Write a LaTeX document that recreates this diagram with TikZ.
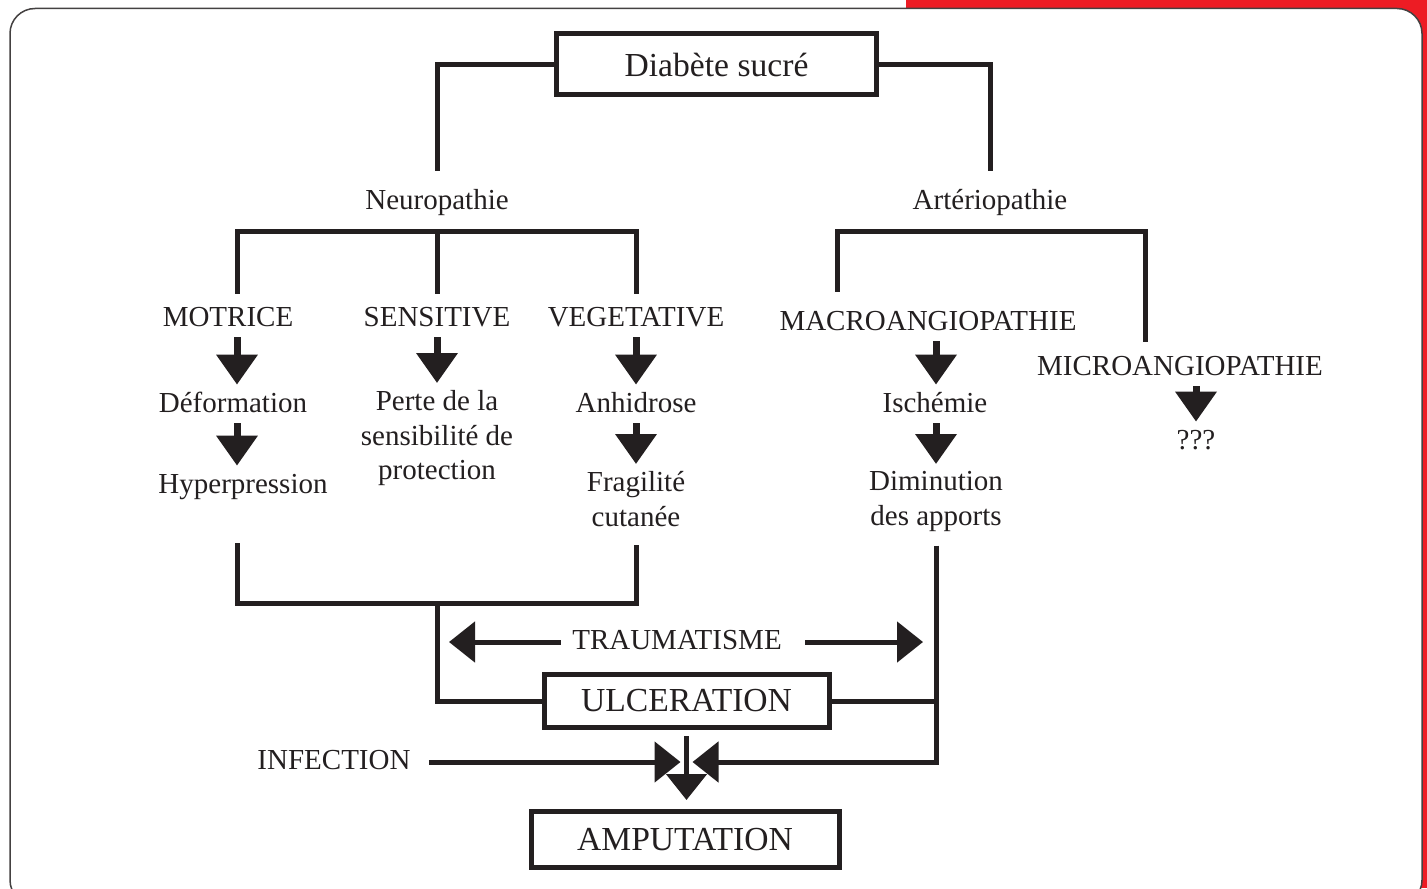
\documentclass[tikz,border=0pt]{standalone}
\usepackage{fontspec}
\setmainfont{Liberation Serif}
\usetikzlibrary{arrows.meta}
\definecolor{framered}{HTML}{ED1C24}
\definecolor{ink}{HTML}{231F20}

\begin{document}
\begin{tikzpicture}[x=0.5pt, y=-0.5pt, ink]
\tikzstyle{txt}=[inner sep=0pt, text height=10pt, text depth=3pt, font=\fontsize{14.5}{17.25}\selectfont]
\tikzstyle{multi}=[inner sep=0pt, align=center, anchor=north, font=\fontsize{14.5}{17.25}\selectfont]
\tikzstyle{bigbox}=[draw, line width=2.5pt, inner sep=0pt, font=\fontsize{16.8}{20}\selectfont]
\tikzstyle{link}=[line width=2.5pt]
\tikzstyle{fatarrow}=[line width=3.5pt, -{Triangle[width=20pt,length=15pt]}, shorten <=2.5pt, shorten >=3.5pt]
\tikzstyle{joinarrow}=[line width=2.5pt, -{Triangle[width=20pt,length=13pt]}]

% frame
\useasboundingbox (0,0) rectangle (1427,888);
\clip (0,0) rectangle (1427,888);
\fill[framered] (906,0) rectangle (1427,888);
\filldraw[fill=white, draw=ink!85, line width=0.75pt, rounded corners=12.5pt] (10,8.5) rectangle (1422,905);

% columns
\coordinate (cA) at (237,0);
\coordinate (cC) at (636,0);
\coordinate (cL) at (837,0);
\coordinate (cM) at (936,0);
\coordinate (cR) at (1145,0);
\coordinate (cQ) at (1196,0);

\node[bigbox, minimum width=160pt, minimum height=30.5pt] (diab) at (716.5,64.5) {Diabète sucré};
\node[txt] (neuro) at (437,202) {Neuropathie};
\node[txt] (arter) at (990,202) {Artériopathie};
\node[txt] (motrice) at (228,319) {MOTRICE};
\node[txt] (sensitive) at (437,319) {SENSITIVE};
\node[txt] (vegetative) at (636,319) {VEGETATIVE};
\node[txt] (macro) at (928,323) {MACROANGIOPATHIE};
\node[txt] (micro) at (1180,368) {MICROANGIOPATHIE};
\node[txt] (deform) at (233,405) {Déformation};
\node[txt] (hyper) at (243,486) {Hyperpression};
\node[multi] (perte) at (437,390) {Perte de la\\sensibilité de\\protection};
\node[txt] (anhid) at (636,405) {Anhidrose};
\node[multi] (fragil) at (636,471) {Fragilité\\cutanée};
\node[txt] (ischem) at (935,405) {Ischémie};
\node[multi] (dimin) at (936,471) {Diminution\\des apports};
\node[txt] (qqq) at (1196,442) {???};
\node[txt] (trauma) at (677,642) {TRAUMATISME};
\node[txt] (infect) at (334,762) {INFECTION};
\node[bigbox, minimum width=142.5pt, minimum height=26.75pt] (ulcer) at (686.5,701) {ULCERATION};
\node[bigbox, minimum width=154pt, minimum height=28pt] (amput) at (685,839.5) {AMPUTATION};

% upper tree
\draw[link, shorten >=9pt] (diab.west) -| (neuro.north);
\draw[link, shorten >=9pt] (diab.east) -| (arter.north);
\coordinate (nbar) at (437,231);
\draw[link, shorten <=6pt, shorten >=6pt] (motrice.north -| cA) |- (nbar) -| (vegetative.north -| cC);
\draw[link, shorten >=6pt] (nbar) -- (sensitive.north);
\coordinate (abar) at (990,231);
\draw[link, shorten <=9pt, shorten >=6.5pt] (macro.north -| cL) |- (abar) -| (micro.north -| cR);

\draw[fatarrow] (motrice.south -| cA) -- (deform.north -| cA);
\draw[fatarrow] (deform.south -| cA) -- (hyper.north -| cA);
\draw[fatarrow] (sensitive.south) -- (perte.north);
\draw[fatarrow] (vegetative.south) -- (anhid.north);
\draw[fatarrow] (anhid.south) -- (fragil.north);
\draw[fatarrow] (macro.south -| cM) -- (ischem.north -| cM);
\draw[fatarrow] (ischem.south -| cM) -- (dimin.north);
\draw[fatarrow] (micro.south -| cQ) -- (qqq.north);

% lower part
\coordinate (lbar) at (437,603);
\draw[link, shorten <=22pt, shorten >=9pt] (hyper.south -| cA) |- (lbar) -| (fragil.south -| cC);
\draw[link] (lbar) |- (ulcer.west);
\draw[link] (ulcer.east) -- (ulcer.east -| cM);
\draw[joinarrow, shorten <=5.5pt, shorten >=6pt] (trauma.west) -- (trauma.west -| lbar);
\draw[joinarrow, shorten <=11.5pt, shorten >=6.5pt] (trauma.east) -- (trauma.east -| cM);

\coordinate (jn) at (ulcer.south |- infect.center);
\draw[joinarrow, shorten <=9pt, shorten >=3pt] (infect.east) -- (jn);
\draw[joinarrow, shorten <=7pt, shorten >=3pt] (dimin.south -| cM) |- (jn);
\draw[joinarrow, shorten <=3pt, shorten >=4.5pt] (ulcer.south) -- (ulcer.south |- amput.north);
\end{tikzpicture}
\end{document}
